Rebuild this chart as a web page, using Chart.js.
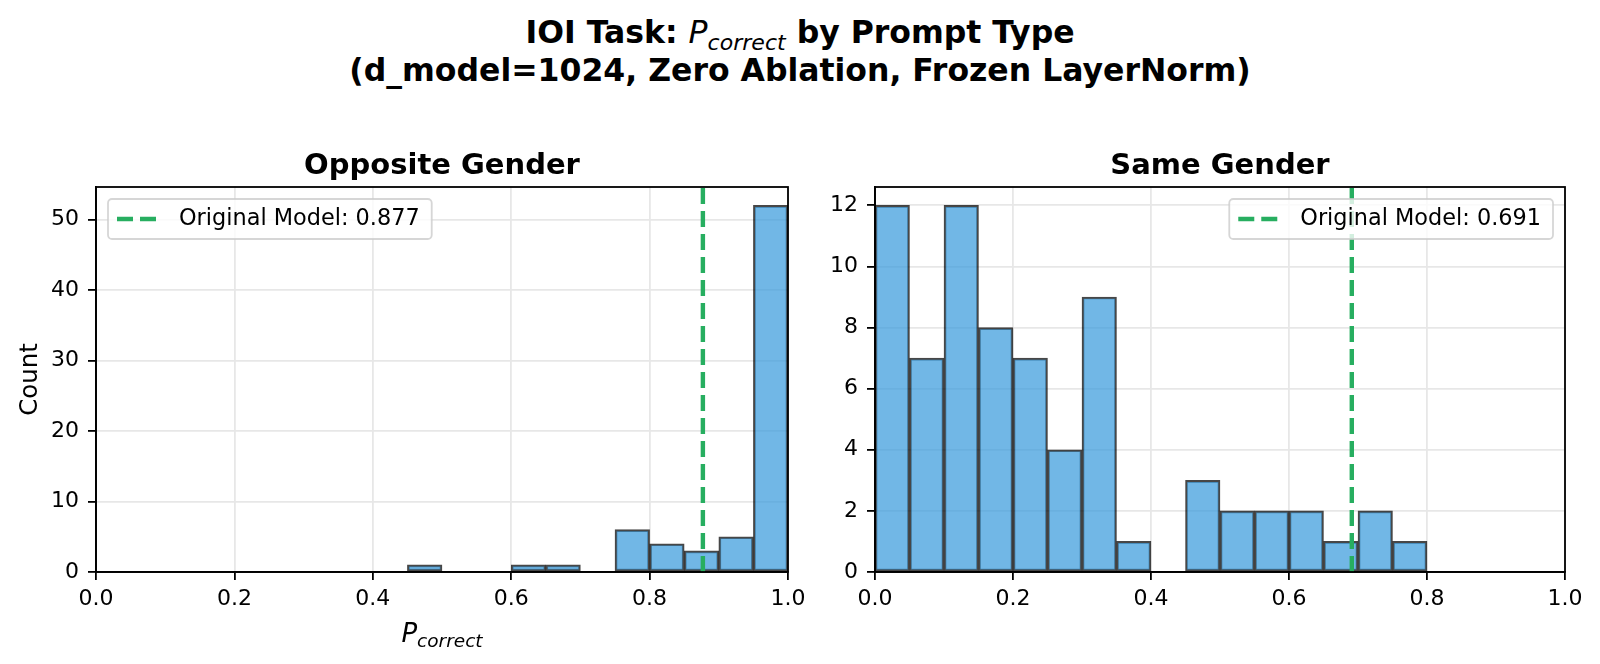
<!DOCTYPE html>
<html>
<head>
<meta charset="utf-8">
<script src="https://cdn.jsdelivr.net/npm/chart.js@4.4.0/dist/chart.umd.min.js"></script>
<style>
  body { margin: 0; width: 1600px; height: 664px; background: #fff; position: relative; overflow: hidden; font-family: 'DejaVu Sans'; }
  #titulo { position: absolute; left: 0; top: 13px; width: 1600px; text-align: center; font-weight: bold; font-size: 31.5px; line-height: 38px; }
  #titulo i { font-weight: normal; }
  #titulo sub { font-size: 70%; line-height: 0; vertical-align: -0.3em; }
  canvas { position: absolute; top: 130px; }
  #graficoOposto { left: 0; }
  #graficoMesmo { left: 800px; }
</style>
</head>
<body>
<div id="titulo">IOI Task: <i>P<sub>correct</sub></i> by Prompt Type<br>(d_model=1024, Zero Ablation, Frozen LayerNorm)</div>
<canvas id="graficoOposto" width="830" height="534"></canvas>
<canvas id="graficoMesmo" width="800" height="534"></canvas>
<script>
// Dados do histograma (bins de 0.05 entre 0 e 1)
const centrosBins = [0.025, 0.075, 0.125, 0.175, 0.225, 0.275, 0.325, 0.375, 0.425, 0.475,
                     0.525, 0.575, 0.625, 0.675, 0.725, 0.775, 0.825, 0.875, 0.925, 0.975];
const contagemOposto = [0, 0, 0, 0, 0, 0, 0, 0, 0, 1, 0, 0, 1, 1, 0, 6, 4, 3, 5, 52];
const contagemMesmo  = [12, 7, 12, 8, 7, 4, 9, 1, 0, 3, 2, 2, 2, 1, 2, 1, 0, 0, 0, 0];
const modeloOposto = 0.877;
const modeloMesmo = 0.691;
const yMaxOposto = 54.6;
const yMaxMesmo = 12.6;

const VERDE = '#27ae60';
const FONTE = 'DejaVu Sans';

Chart.defaults.font.family = FONTE;
Chart.defaults.color = '#000';

// Moldura, título do subplot, legenda e rótulo do eixo x
const extras = {
  id: 'extras',
  afterDatasetsDraw(chart, args, opts) {
    const { ctx, chartArea: a } = chart;
    ctx.save();
    ctx.strokeStyle = '#000';
    ctx.lineWidth = 1.8;
    ctx.strokeRect(a.left, a.top, a.right - a.left, a.bottom - a.top);

    // titulo
    ctx.font = `bold 29px "${FONTE}"`;
    ctx.fillStyle = '#000';
    ctx.textAlign = 'center';
    ctx.textBaseline = 'alphabetic';
    ctx.fillText(opts.titulo, (a.left + a.right) / 2, a.top - 13);

    // legenda
    ctx.font = `22.4px "${FONTE}"`;
    ctx.textAlign = 'left';
    const texto = 'Original Model: ' + opts.valor.toFixed(3);
    const tw = ctx.measureText(texto).width;
    const w = 9 + 44 + 18 + tw + 12;
    const h = 40;
    const x = opts.lado === 'left' ? a.left + 12 : a.right - 12 - w;
    const y = a.top + 12;
    ctx.beginPath();
    ctx.roundRect(x, y, w, h, 4);
    ctx.fillStyle = 'rgba(255,255,255,0.8)';
    ctx.fill();
    ctx.strokeStyle = 'rgba(204,204,204,0.8)';
    ctx.lineWidth = 1.8;
    ctx.stroke();
    ctx.strokeStyle = VERDE;
    ctx.lineWidth = 4.4;
    ctx.setLineDash([16, 7]);
    ctx.beginPath();
    ctx.moveTo(x + 9, y + 20);
    ctx.lineTo(x + 53, y + 20);
    ctx.stroke();
    ctx.setLineDash([]);
    ctx.fillStyle = '#000';
    ctx.textBaseline = 'middle';
    ctx.fillText(texto, x + 71, y + 20);

    // rotulo x (P_correct)
    if (opts.xlabel) {
      ctx.textBaseline = 'alphabetic';
      ctx.font = `italic 26px "${FONTE}"`;
      const wP = ctx.measureText('P').width;
      ctx.font = `italic 18.5px "${FONTE}"`;
      const wSub = ctx.measureText('correct').width;
      const x0 = (a.left + a.right) / 2 - (wP + wSub) / 2;
      const yb = a.bottom + 70;
      ctx.font = `italic 26px "${FONTE}"`;
      ctx.fillText('P', x0, yb);
      ctx.font = `italic 18.5px "${FONTE}"`;
      ctx.fillText('correct', x0 + wP, yb + 5);
    }
    ctx.restore();
  }
};

function montarGrafico(id, contagens, valorModelo, yMax, passoY, cfg) {
  const pontosBarras = centrosBins.map((c, i) => ({ x: c, y: contagens[i] }));
  return new Chart(document.getElementById(id), {
    type: 'bar',
    data: {
      datasets: [
        {
          type: 'line',
          data: [{ x: valorModelo, y: 0 }, { x: valorModelo, y: yMax }],
          borderColor: VERDE,
          borderWidth: 4.4,
          borderDash: [16, 7],
          pointRadius: 0,
          order: 0
        },
        {
          type: 'bar',
          data: pontosBarras,
          backgroundColor: 'rgba(52,152,219,0.7)',
          borderColor: 'rgba(0,0,0,0.72)',
          borderWidth: 2,
          borderSkipped: false,
          barPercentage: 1,
          categoryPercentage: 1,
          order: 1
        }
      ]
    },
    options: {
      responsive: false,
      animation: false,
      layout: { padding: { left: 0, top: 57, right: cfg.padDireita, bottom: 0 } },
      plugins: {
        legend: { display: false },
        tooltip: { enabled: false },
        extras: { titulo: cfg.titulo, valor: valorModelo, lado: cfg.lado, xlabel: cfg.xlabel }
      },
      scales: {
        x: {
          type: 'linear',
          min: 0,
          max: 1,
          offset: false,
          grid: { offset: false, color: 'rgb(231,231,231)', lineWidth: 1.8, tickColor: '#000', tickLength: 8, tickWidth: 1.8 },
          border: { color: '#000', width: 1.8 },
          ticks: { stepSize: 0.2, padding: 6, font: { size: 22 }, color: '#000', callback: v => v.toFixed(1) },
          afterFit: s => { s.height = 92; s.paddingLeft = 0; s.paddingRight = 0; }
        },
        y: {
          min: 0,
          max: yMax,
          grid: { color: 'rgb(231,231,231)', lineWidth: 1.8, tickColor: '#000', tickLength: 8, tickWidth: 1.8 },
          border: { color: '#000', width: 1.8 },
          ticks: { stepSize: passoY, includeBounds: false, padding: 9, font: { size: 22 }, color: '#000' },
          title: cfg.ylabel
            ? { display: true, text: 'Count', font: { size: 24.4 }, color: '#000', padding: { top: 16, bottom: 0 } }
            : { display: false },
          afterFit: s => { s.width = cfg.larguraY; }
        }
      }
    },
    plugins: [extras]
  });
}

montarGrafico('graficoOposto', contagemOposto, modeloOposto, yMaxOposto, 10,
  { titulo: 'Opposite Gender', lado: 'left', xlabel: true, ylabel: true, larguraY: 96, padDireita: 42 });
montarGrafico('graficoMesmo', contagemMesmo, modeloMesmo, yMaxMesmo, 2,
  { titulo: 'Same Gender', lado: 'right', xlabel: false, ylabel: false, larguraY: 75, padDireita: 35 });
</script>
</body>
</html>
